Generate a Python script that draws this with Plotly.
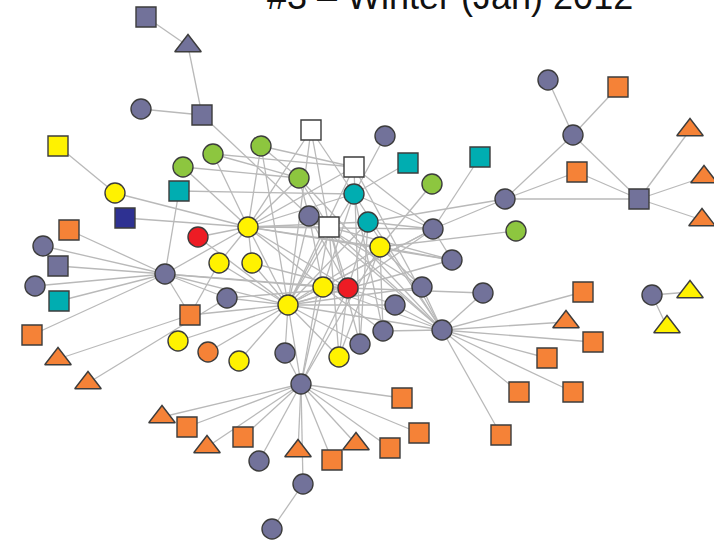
import plotly.graph_objects as go

# Node layout (network positions in picture units), shape and colour group
node_x = [146, 188, 141, 202, 58, 115, 179, 125, 69, 43,
          58, 35, 59, 32, 58, 88, 165, 198, 248, 219,
          252, 227, 190, 178, 208, 239, 288, 285, 301, 183,
          213, 261, 299, 311, 354, 385, 408, 354, 368, 309,
          329, 380, 323, 348, 432, 480, 433, 452, 422, 395,
          383, 360, 339, 442, 483, 516, 505, 548, 618, 573,
          577, 639, 690, 704, 702, 583, 566, 593, 547, 519,
          573, 501, 652, 690, 667, 402, 419, 390, 356, 332,
          298, 259, 243, 207, 187, 162, 303, 272]
node_y = [17, 46, 109, 115, 146, 193, 191, 218, 230, 246,
          266, 286, 301, 335, 359, 383, 274, 237, 227, 263,
          263, 298, 315, 341, 352, 361, 305, 353, 384, 167,
          154, 146, 178, 130, 167, 136, 163, 194, 222, 216,
          227, 247, 287, 288, 184, 157, 229, 260, 287, 305,
          331, 344, 357, 330, 293, 231, 199, 80, 87, 135,
          172, 199, 130, 177, 220, 292, 322, 342, 358, 392,
          392, 435, 295, 292, 327, 398, 433, 448, 444, 460,
          451, 461, 437, 447, 427, 417, 484, 529]
node_shape = ["sq", "tri", "ci", "sq", "sq", "ci", "sq", "sq", "sq", "ci",
              "sq", "ci", "sq", "sq", "tri", "tri", "ci", "ci", "ci", "ci",
              "ci", "ci", "sq", "ci", "ci", "ci", "ci", "ci", "ci", "ci",
              "ci", "ci", "ci", "sq", "sq", "ci", "sq", "ci", "ci", "ci",
              "sq", "ci", "ci", "ci", "ci", "sq", "ci", "ci", "ci", "ci",
              "ci", "ci", "ci", "ci", "ci", "ci", "ci", "ci", "sq", "ci",
              "sq", "sq", "tri", "tri", "tri", "sq", "tri", "sq", "sq", "sq",
              "sq", "sq", "ci", "tri", "tri", "sq", "sq", "sq", "tri", "sq",
              "tri", "ci", "sq", "tri", "sq", "tri", "ci", "ci"]
node_group = ["slate", "slate", "slate", "slate", "yellow", "yellow", "teal", "navy", "orange", "slate",
              "slate", "slate", "teal", "orange", "orange", "orange", "slate", "red", "yellow", "yellow",
              "yellow", "slate", "orange", "yellow", "orange", "yellow", "yellow", "slate", "slate", "green",
              "green", "green", "green", "white", "white", "slate", "teal", "teal", "teal", "slate",
              "white", "yellow", "yellow", "red", "green", "teal", "slate", "slate", "slate", "slate",
              "slate", "slate", "yellow", "slate", "slate", "green", "slate", "slate", "orange", "slate",
              "orange", "slate", "orange", "orange", "orange", "orange", "orange", "orange", "orange", "orange",
              "orange", "orange", "slate", "yellow", "yellow", "orange", "orange", "orange", "orange", "orange",
              "orange", "slate", "orange", "orange", "orange", "orange", "slate", "slate"]

# Edges (1-based node numbers)
edges = [
    (1, 2), (2, 4), (3, 4), (4, 40), (5, 6), (6, 19), (7, 38), (7, 17), (8, 19),
    (9, 17), (10, 17), (11, 17), (12, 17), (13, 17), (14, 17), (15, 23), (16, 22),
    (17, 23), (17, 19), (17, 22), (17, 27), (17, 43), (17, 44),
    (23, 27), (23, 20), (24, 27), (25, 27), (26, 27), (28, 29), (28, 27),
    (29, 27), (29, 43), (29, 44), (29, 42), (29, 41),
    (29, 76), (29, 77), (29, 78), (29, 79), (29, 80), (29, 81), (29, 82), (29, 83),
    (29, 84), (29, 85), (29, 86), (29, 87), (87, 88),
    (20, 19), (20, 27), (21, 19), (21, 27), (21, 44), (22, 27), (22, 44), (18, 27), (18, 19),
    (19, 30), (19, 31), (19, 32), (19, 33), (19, 34), (19, 35), (19, 41), (19, 42), (19, 47),
    (19, 44), (19, 43), (19, 48), (19, 27), (19, 38), (19, 39),
    (27, 34), (27, 35), (27, 38), (27, 39), (27, 41), (27, 42), (27, 43), (27, 44), (27, 47),
    (27, 48), (27, 49), (27, 50), (27, 52), (27, 53), (27, 40), (27, 32),
    (43, 44), (43, 40), (43, 38), (43, 47), (43, 54), (43, 51),
    (44, 40), (44, 41), (44, 39), (44, 47), (44, 55), (44, 53), (44, 50),
    (40, 33), (40, 54),
    (41, 34), (41, 33), (41, 48), (41, 54), (41, 52),
    (38, 54), (38, 51), (38, 47), (36, 38), (37, 38),
    (39, 47), (39, 54), (39, 52), (39, 57),
    (42, 45), (42, 56), (42, 48), (42, 49), (42, 53), (42, 51),
    (47, 46), (47, 57), (47, 48), (47, 35),
    (35, 31), (35, 32), (35, 54), (35, 52),
    (33, 30), (33, 31), (33, 32), (33, 54),
    (34, 38),
    (49, 54), (49, 40), (50, 54), (51, 54), (53, 41),
    (54, 66), (54, 67), (54, 68), (54, 69), (54, 70), (54, 71), (54, 72), (54, 55), (54, 27),
    (57, 60), (57, 61), (57, 62), (58, 60), (59, 60), (60, 62), (61, 62),
    (62, 63), (62, 64), (62, 65), (73, 74), (73, 75),
]

title_text = "#3 \u2013 Winter (Jan) 2012"

group_colors = {
    "slate": "#72729a", "orange": "#f58237", "yellow": "#fff200", "green": "#8dc63f",
    "teal": "#00adb1", "red": "#ed1c24", "navy": "#2e3192", "white": "#ffffff",
}
shape_symbols = {"ci": "circle", "sq": "square", "tri": "triangle-up"}
shape_sizes = {"ci": 20, "sq": 20, "tri": 23}

ex, ey = [], []
for a, b in edges:
    ex += [node_x[a - 1], node_x[b - 1], None]
    ey += [node_y[a - 1], node_y[b - 1], None]

fig = go.Figure()
fig.add_trace(go.Scatter(x=ex, y=ey, mode="lines",
                         line=dict(color="#b9b9b9", width=1.3),
                         hoverinfo="skip", showlegend=False))
fig.add_trace(go.Scatter(
    x=node_x, y=node_y, mode="markers",
    marker=dict(
        symbol=[shape_symbols[s] for s in node_shape],
        size=[shape_sizes[s] for s in node_shape],
        color=[group_colors[g] for g in node_group],
        line=dict(color="#3c3c3c", width=1.4),
        opacity=1,
    ),
    showlegend=False,
))

fig.add_annotation(x=450 / 714, y=1 + 4 / 542, xref="paper", yref="paper", text=title_text,
                   showarrow=False, xanchor="center", yanchor="middle",
                   font=dict(family="Liberation Sans, Arial, sans-serif", size=36, color="#111111"))

fig.update_xaxes(range=[0, 714], visible=False, showgrid=False, zeroline=False)
fig.update_yaxes(range=[542, 0], visible=False, showgrid=False, zeroline=False)
fig.update_layout(width=714, height=542, margin=dict(l=0, r=0, t=0, b=0),
                  plot_bgcolor="white", paper_bgcolor="white")

fig.write_html("out.html", config={"displayModeBar": False},
               post_script="document.body.style.margin='0';document.body.style.padding='0';")
